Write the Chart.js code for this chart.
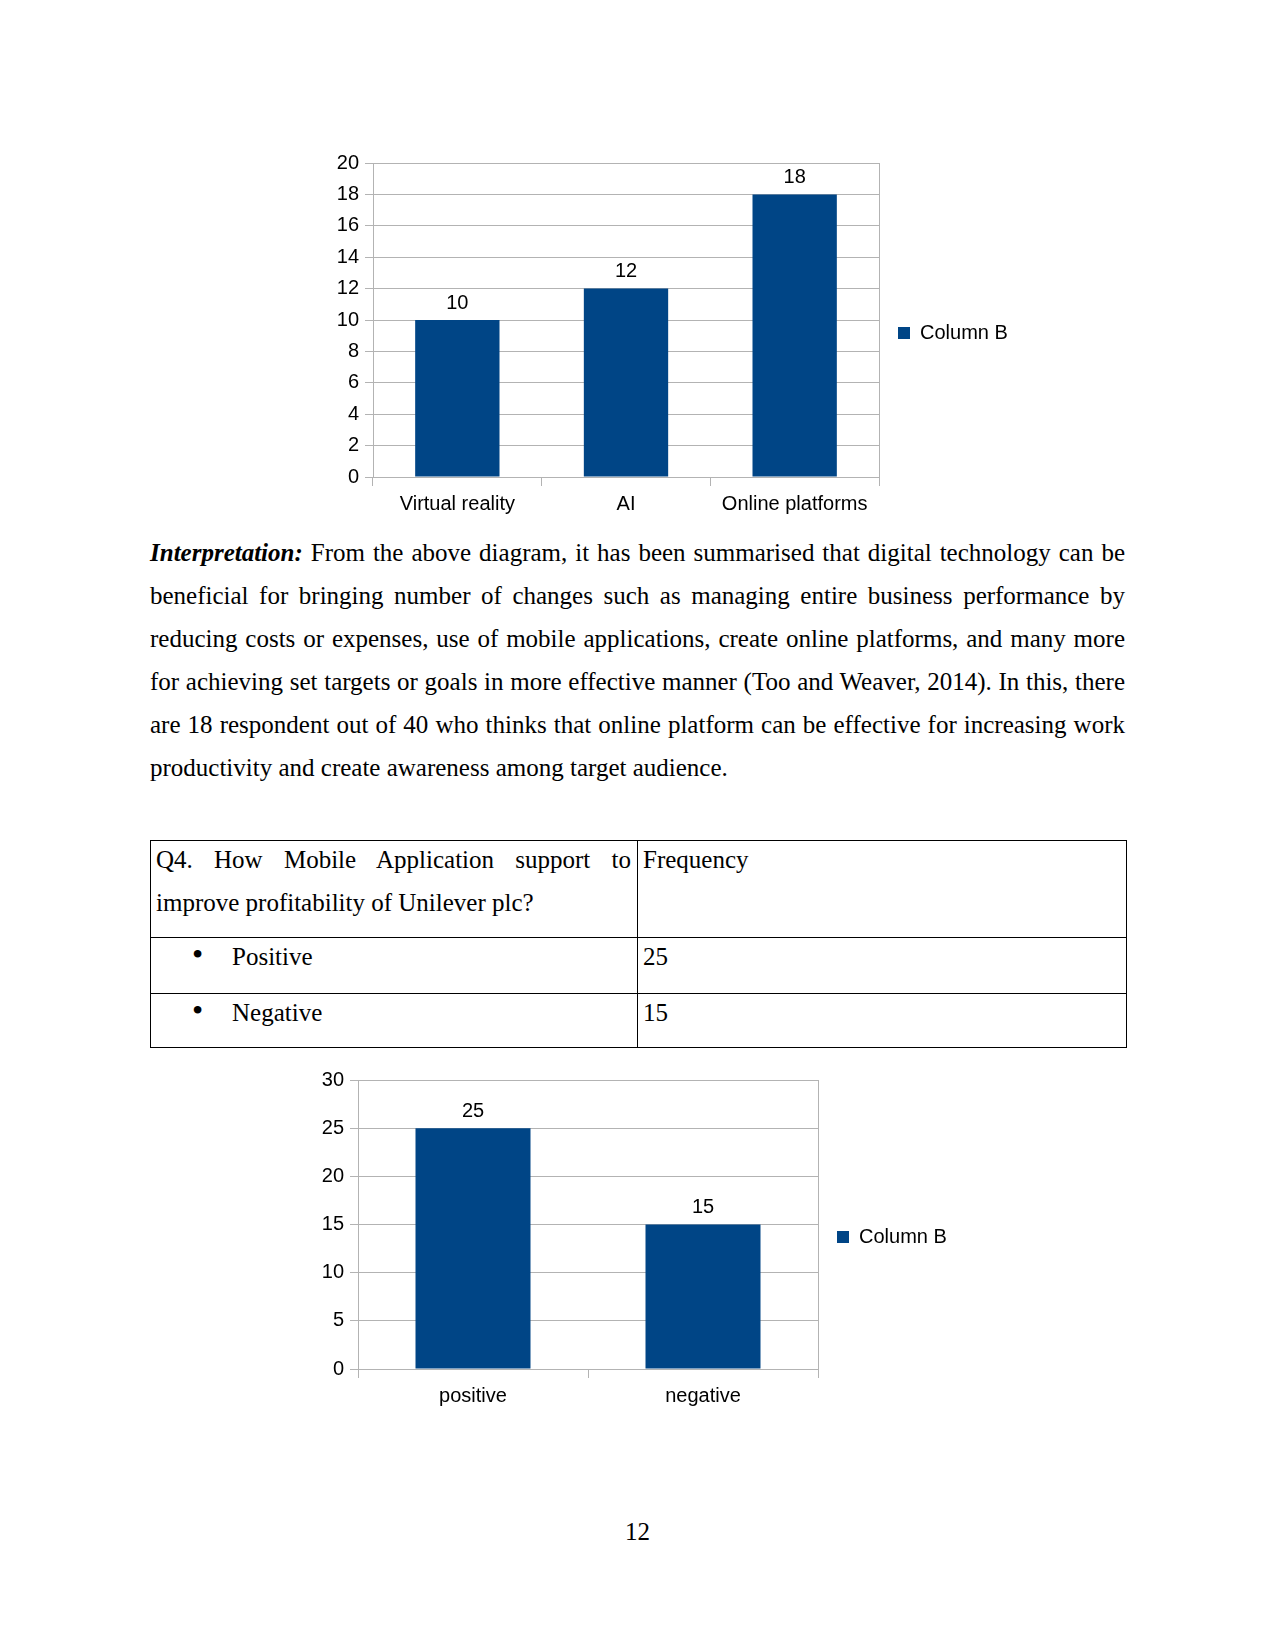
<!DOCTYPE html>
<html>
<head>
<meta charset="utf-8">
<script src="https://cdn.jsdelivr.net/npm/chart.js@4.4.1/dist/chart.umd.min.js"></script>
<style>
body { margin: 0; background: #fff; }
#page { position: relative; width: 1275px; height: 1651px; background: #fff; font-family: "Liberation Serif", "Times New Roman", serif; color: #000; overflow: hidden; }
canvas { position: absolute; }
#para { position: absolute; left: 150px; top: 531px; width: 975px; font-size: 25px; line-height: 43px; text-align: justify; }
#q4 { position: absolute; left: 150px; top: 840px; width: 976px; border-collapse: collapse; font-size: 25px; line-height: 43px; table-layout: fixed; }
#q4 td { border: 1px solid #000; vertical-align: top; padding: 0 6px 0 5px; }
#q4 td div { position: relative; top: -3px; }
#q4 .j { text-align: justify; }
.bul { display: inline-block; margin-left: 36px; width: 40px; font-size: 32px; line-height: 10px; }
#pnum { position: absolute; left: 0; width: 1275px; top: 1510px; text-align: center; font-size: 25px; line-height: 43px; }
</style>
</head>
<body>
<div id="page">
  <canvas id="chart1" width="695" height="386" style="left:320px;top:140px;width:695px;height:386px"></canvas>

  <div id="para"><b><i>Interpretation:</i></b> From the above diagram, it has been summarised that digital technology can be beneficial for bringing number of changes such as managing entire business performance by reducing costs or expenses, use of mobile applications, create online platforms, and many more for achieving set targets or goals in more effective manner (Too and Weaver, 2014). In this, there are 18 respondent out of 40 who thinks that online platform can be effective for increasing work productivity and create awareness among target audience.</div>

  <table id="q4">
    <colgroup><col style="width:487px"><col style="width:489px"></colgroup>
    <tr style="height:97px"><td><div class="j">Q4. How Mobile Application support to improve profitability of Unilever plc?</div></td><td><div>Frequency</div></td></tr>
    <tr style="height:56px"><td><div><span class="bul">•</span>Positive</div></td><td><div>25</div></td></tr>
    <tr style="height:54px"><td><div><span class="bul">•</span>Negative</div></td><td><div>15</div></td></tr>
  </table>

  <canvas id="chart2" width="654" height="354" style="left:300px;top:1060px;width:654px;height:354px"></canvas>

  <div id="pnum">12</div>
</div>

<script>
// chart 1 : digital technology
var techLabels = ["Virtual reality", "AI", "Online platforms"];
var techValues = [10, 12, 18];
// chart 2 : mobile application
var mobileLabels = ["positive", "negative"];
var mobileValues = [25, 15];
var seriesName = "Column B";

var barColor = "#004586";
var gridColor = "#b3b3b3";

Chart.defaults.font.family = '"Liberation Sans", Arial, sans-serif';
Chart.defaults.font.size = 20;
Chart.defaults.color = "#000";

// value written above each bar
var valueLabels = {
	id: 'valueLabels',
	afterDatasetsDraw: function(chart) {
		var ctx = chart.ctx;
		ctx.save();
		ctx.font = '20px "Liberation Sans", Arial, sans-serif';
		ctx.fillStyle = "#000";
		ctx.textAlign = "center";
		ctx.textBaseline = "middle";
		var vals = chart.data.datasets[0].data;
		chart.getDatasetMeta(0).data.forEach(function(bar, i) {
			ctx.fillText(vals[i], bar.x, bar.y - 17);
		});
		ctx.restore();
	}
};

function chartBar(id, labels, values, yMax, yStep, o) {
	var ctx = document.getElementById(id).getContext("2d");
	return new Chart(ctx, {
		type: 'bar',
		data: {
			labels: labels,
			datasets: [{
				label: seriesName,
				data: values,
				backgroundColor: barColor,
				borderWidth: 0,
				barPercentage: 0.5,
				categoryPercentage: 1.0
			}]
		},
		plugins: [valueLabels],
		options: {
			responsive: false,
			animation: false,
			events: [],
			layout: { padding: { top: o.padTop, bottom: 0, left: 0, right: 0 } },
			plugins: {
				tooltip: { enabled: false },
				legend: {
					position: 'right',
					align: 'start',
					maxWidth: o.legendWidth,
					// empty title only pushes the entry down to the middle of the chart
					title: { display: true, text: '', font: { size: 20, lineHeight: 1.2 }, padding: { top: o.legendDrop - 24, bottom: 0 } },
					labels: {
						boxWidth: 12,
						boxHeight: 12,
						padding: o.legendPad,
						color: "#000",
						font: { size: 20 }
					}
				}
			},
			scales: {
				x: {
					afterFit: function(s) { s.height = o.xHeight; },
					grid: {
						offset: true,
						color: function(c) { return c.type === 'scale' ? gridColor : 'rgba(0,0,0,0)'; },
						tickColor: gridColor,
						tickLength: 9
					},
					border: { color: gridColor },
					ticks: { padding: 6, maxRotation: 0 }
				},
				y: {
					min: 0,
					max: yMax,
					afterFit: function(s) { s.width = o.yWidth; },
					grid: { color: gridColor, tickLength: 8 },
					border: { color: gridColor },
					ticks: { stepSize: yStep, padding: o.yPad }
				}
			}
		}
	});
}

chartBar("chart1", techLabels, techValues, 20, 2, { padTop: 23, xHeight: 49, yWidth: 53, yPad: 6, legendPad: 19, legendWidth: 136, legendDrop: 141 });
chartBar("chart2", mobileLabels, mobileValues, 30, 5, { padTop: 20, xHeight: 45, yWidth: 58, yPad: 6, legendPad: 19, legendWidth: 136, legendDrop: 128 });
</script>
</body>
</html>
